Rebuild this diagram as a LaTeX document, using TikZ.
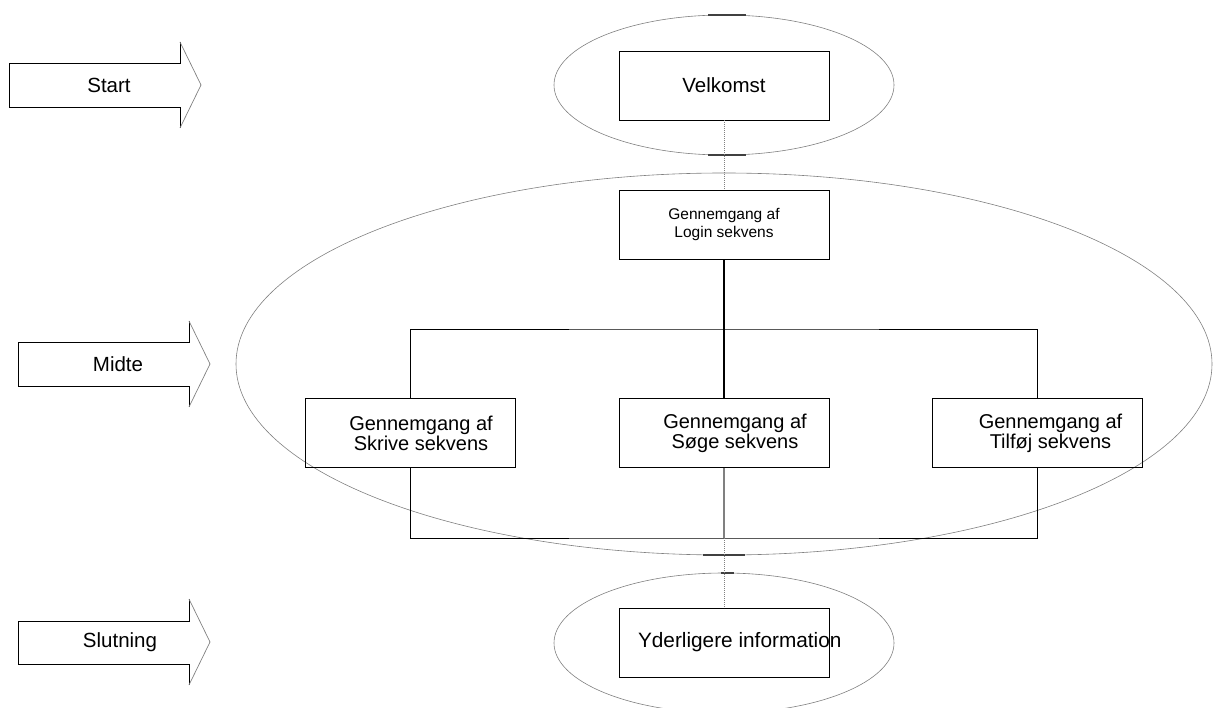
\documentclass[tikz,border=0pt]{standalone}
\usepackage{fontspec}
\setmainfont{Liberation Sans}
\usetikzlibrary{positioning, shapes.geometric}

\begin{document}
\begin{tikzpicture}[
  x=1pt, y=-1pt,
  box/.style={draw, line width=0.9pt, align=center, minimum width=210pt, minimum height=69pt, inner sep=0pt, font=\fontsize{20}{20}\selectfont},
  small/.style={font=\fontsize{15.5}{18}\selectfont},
  ring/.style={draw=gray, line width=0.6pt, ellipse, inner sep=0pt},
  blockarrow/.style={draw, line width=0.8pt, line join=miter},
  arrowtip/.style={draw=gray, line width=0.7pt},
  lbl/.style={font=\fontsize{20.5}{20}\selectfont},
  fork/.style={line width=0.9pt},
  trunk/.style={line width=1.8pt},
  dots/.style={gray, densely dotted, line width=1pt},
  handle/.style={line width=1.2pt, black!75}
]
\useasboundingbox (0,0) rectangle (1213,708);

% phases on the left
\draw[blockarrow] (180,42) -- (180,63) -- (9,63) -- (9,107) -- (180,107) -- (180,128);
\draw[arrowtip] (180,42) -- (201,85) -- (180,128);
\node[lbl] (start) at (109,85) {Start};
\draw[blockarrow] (189,321) -- (189,342) -- (18,342) -- (18,386) -- (189,386) -- (189,407);
\draw[arrowtip] (189,321) -- (210,364) -- (189,407);
\node[lbl] (midte) at (118,364) {Midte};
\draw[blockarrow] (189,599) -- (189,621) -- (18,621) -- (18,664) -- (189,664) -- (189,685);
\draw[arrowtip] (189,599) -- (210,642) -- (189,685);
\node[lbl] (slutning) at (120,642) {Slutning};

% groups
\node[ring, minimum width=340pt, minimum height=140pt] (topring) at (724,85) {};
\node[ring, minimum width=976pt, minimum height=382pt] (midring) at (724,364) {};
\node[ring, minimum width=340pt, minimum height=140pt] (endring) at (724,643) {};
\draw[handle] (708,15) -- (746,15);
\draw[handle] (708,155) -- (746,155);
\draw[handle] (703,555) -- (745,555);
\draw[handle] (721,573) -- (734,573);

% steps
\node[box] (velkomst) at (724,85.5) {\fontsize{20.5}{20}\selectfont Velkomst};
\node[box, small] (login) at (724,224.5) {Gennemgang af\\Login sekvens};
\node[box] (skrive) at (410,433) {\hspace*{22pt}Gennemgang af\\\hspace*{22pt}Skrive sekvens};
\node[box] (soege) at (724,433) {\hspace*{22pt}Gennemgang af\\\hspace*{22pt}Søge sekvens};
\node[box] (tilfoej) at (1037.5,433) {\hspace*{26pt}Gennemgang af\\\hspace*{26pt}Tilføj sekvens};
\node[box] (yderligere) at (724,642.5) {\makebox[210pt][l]{\hspace*{19pt}\fontsize{20.8}{20}\selectfont Yderligere information}};

\coordinate (topbar) at (724,329);
\coordinate (botbar) at (724,538);

\draw[dots] (velkomst) -- (login);
\draw[trunk] (login) -- (soege);
\draw[fork] (skrive) |- (topbar) -| (tilfoej);
\draw[fork] (skrive) |- (botbar) -| (tilfoej);
\draw[fork, gray, line width=1.4pt] (soege) -- (botbar);
\draw[dots] (botbar) -- (yderligere);
\end{tikzpicture}
\end{document}
